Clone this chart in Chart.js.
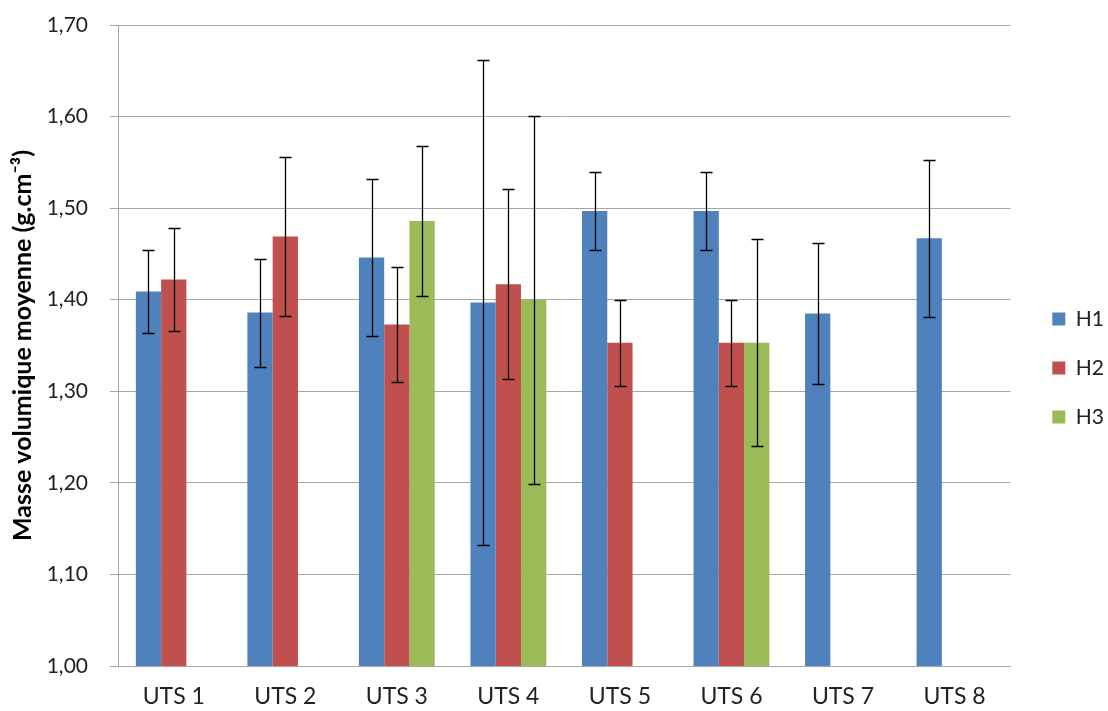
<!DOCTYPE html>
<html>
<head>
<meta charset="utf-8">
<script src="https://cdn.jsdelivr.net/npm/chart.js@4.4.1/dist/chart.umd.min.js"></script>
<style>
  html, body { margin: 0; padding: 0; background: #fff; }
  #wrap { width: 1108px; height: 711px; }
</style>
</head>
<body>
<div id="wrap"><canvas id="densityChart"></canvas></div>
<script>
// categories and series (mean bulk density per horizon)
var categories = ['UTS 1', 'UTS 2', 'UTS 3', 'UTS 4', 'UTS 5', 'UTS 6', 'UTS 7', 'UTS 8'];
var seriesNames = ['H1', 'H2', 'H3'];
var valuesH1 = [1.409, 1.386, 1.446, 1.397, 1.497, 1.497, 1.385, 1.467];
var valuesH2 = [1.422, 1.469, 1.373, 1.417, 1.353, 1.353, null, null];
var valuesH3 = [null, null, 1.486, 1.400, null, 1.353, null, null];
// standard deviations (error bars)
var errorsH1 = [0.045, 0.059, 0.086, 0.265, 0.043, 0.043, 0.077, 0.086];
var errorsH2 = [0.056, 0.087, 0.063, 0.104, 0.047, 0.047, null, null];
var errorsH3 = [null, null, 0.082, 0.201, null, 0.113, null, null];
var yTicks = [1.00, 1.10, 1.20, 1.30, 1.40, 1.50, 1.60, 1.70];

var FONT = 'Lato, "DejaVu Sans", sans-serif';
var gridGrey = '#a6a6a6';

// draws the whiskers on top of the bars
var errorBarsPlugin = {
    id: 'errorBars',
    afterDatasetsDraw: function(chart) {
        var ctx = chart.ctx;
        var yScale = chart.scales.y;
        ctx.save();
        ctx.strokeStyle = '#000';
        ctx.lineWidth = 1.3;
        chart.data.datasets.forEach(function(ds, i) {
            var meta = chart.getDatasetMeta(i);
            meta.data.forEach(function(bar, j) {
                var v = ds.data[j];
                var e = ds.errors[j];
                if (v == null || e == null) return;
                var x = Math.round(bar.x) + 0.5;
                var yTop = Math.round(yScale.getPixelForValue(v + e)) + 0.5;
                var yBot = Math.round(yScale.getPixelForValue(v - e)) + 0.5;
                ctx.beginPath();
                ctx.moveTo(x, yTop); ctx.lineTo(x, yBot);
                ctx.moveTo(x - 6, yTop); ctx.lineTo(x + 6, yTop);
                ctx.moveTo(x - 6, yBot); ctx.lineTo(x + 6, yBot);
                ctx.stroke();
            });
        });
        ctx.restore();
    }
};

// small nudge so the legend sits a bit right of the plot, as in the original
var legendShift = {
    id: 'legendShift',
    afterLayout: function(chart) {
        if (chart.legend) {
            chart.legend.left += 14;
            chart.legend.right += 14;
        }
    }
};

var ctx = document.getElementById('densityChart').getContext('2d');

var chart = new Chart(ctx, {
    type: 'bar',
    data: {
        labels: categories,
        datasets: [{
            label: seriesNames[0],
            data: valuesH1,
            errors: errorsH1,
            backgroundColor: '#4F81BD'
        }, {
            label: seriesNames[1],
            data: valuesH2,
            errors: errorsH2,
            backgroundColor: '#C0504D'
        }, {
            label: seriesNames[2],
            data: valuesH3,
            errors: errorsH3,
            backgroundColor: '#9BBB59'
        }]
    },
    options: {
        responsive: true,
        maintainAspectRatio: false,
        animation: false,
        datasets: {
            bar: {
                barPercentage: 1.0,
                categoryPercentage: 0.68,
                borderWidth: 0
            }
        },
        layout: {
            padding: { top: 25, left: 0, right: 8, bottom: 0 }
        },
        plugins: {
            tooltip: { enabled: false },
            legend: {
                position: 'right',
                labels: {
                    boxWidth: 13,
                    boxHeight: 13,
                    padding: 28,
                    color: '#222',
                    font: { family: FONT, size: 21 }
                }
            }
        },
        scales: {
            x: {
                grid: { display: false },
                border: { display: true, color: gridGrey, width: 1 },
                ticks: {
                    color: '#222',
                    padding: 9,
                    font: { family: FONT, size: 23 }
                },
                afterFit: function(scale) { scale.height = 45; }
            },
            y: {
                min: yTicks[0],
                max: yTicks[yTicks.length - 1],
                afterBuildTicks: function(scale) {
                    scale.ticks = yTicks.map(function(v) { return { value: v }; });
                },
                grid: { color: gridGrey, lineWidth: 1, tickLength: 8 },
                border: { display: true, color: gridGrey, width: 1 },
                ticks: {
                    color: '#222',
                    padding: 22,
                    font: { family: FONT, size: 21 },
                    callback: function(v) { return Number(v).toFixed(2).replace('.', ','); }
                },
                title: {
                    display: true,
                    text: 'Masse volumique moyenne (g.cm\u207B\u00B3)',
                    color: '#000',
                    padding: { top: 8, bottom: 0 },
                    font: { family: FONT, size: 25, weight: 'bold' }
                },
                afterFit: function(scale) {
                    scale.width = 118;
                    // the label padding should not push the plot down
                    scale.paddingTop = 0;
                    scale.paddingBottom = 0;
                }
            }
        }
    },
    plugins: [errorBarsPlugin, legendShift]
});
</script>
</body>
</html>
